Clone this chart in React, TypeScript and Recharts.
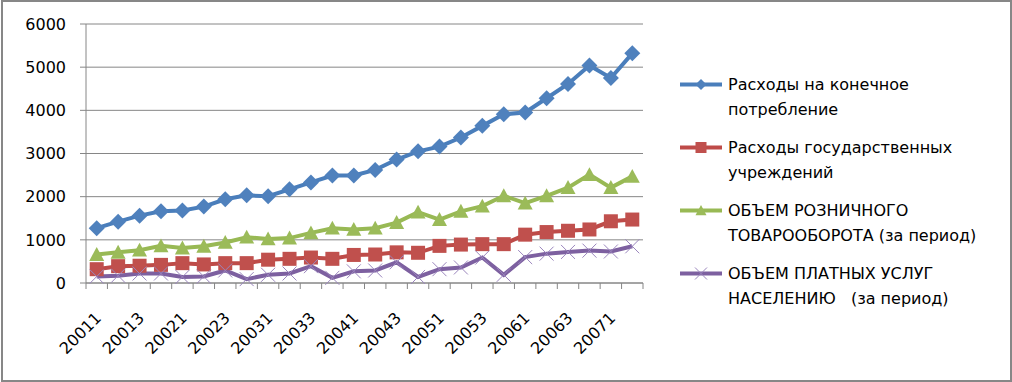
import { CartesianGrid, Legend, Line, LineChart, XAxis, YAxis } from 'recharts'

// quarters: year + quarter number
const quarters = [
  '20011', '20012', '20013', '20014',
  '20021', '20022', '20023', '20024',
  '20031', '20032', '20033', '20034',
  '20041', '20042', '20043', '20044',
  '20051', '20052', '20053', '20054',
  '20061', '20062', '20063', '20064',
  '20071', '20072',
]

const consumption = [1270, 1420, 1560, 1660, 1680, 1770, 1940, 2030, 2010, 2170, 2330, 2490, 2490, 2620, 2860, 3050, 3160, 3370, 3640, 3910, 3950, 4280, 4610, 5040, 4750, 5320]
const government = [320, 390, 400, 420, 460, 430, 460, 460, 540, 560, 590, 560, 650, 660, 710, 700, 860, 890, 900, 900, 1120, 1180, 1210, 1240, 1430, 1470]
const retail = [660, 710, 760, 860, 810, 850, 940, 1060, 1020, 1040, 1160, 1270, 1240, 1270, 1400, 1640, 1470, 1660, 1780, 2020, 1850, 2020, 2210, 2510, 2210, 2470]
const services = [150, 170, 220, 220, 140, 150, 290, 90, 190, 220, 390, 120, 270, 290, 480, 140, 320, 360, 590, 190, 600, 680, 720, 750, 730, 850]

const yTicks = [0, 1000, 2000, 3000, 4000, 5000, 6000]

const seriesNames = [
  'Расходы на конечное\nпотребление',
  'Расходы государственных\nучреждений',
  'ОБЪЕМ РОЗНИЧНОГО\nТОВАРООБОРОТА (за период)',
  'ОБЪЕМ ПЛАТНЫХ УСЛУГ\nНАСЕЛЕНИЮ   (за период)',
]

const data = quarters.map((q, i) => ({
  q,
  consumption: consumption[i],
  government: government[i],
  retail: retail[i],
  services: services[i],
}))

type Shape = 'diamond' | 'square' | 'triangle' | 'cross'

const SERIES: { key: string; name: string; line: string; fill: string; shape: Shape; size: number }[] = [
  { key: 'consumption', name: seriesNames[0], line: '#4A7EBB', fill: '#4F81BD', shape: 'diamond', size: 16 },
  { key: 'government', name: seriesNames[1], line: '#BE4B48', fill: '#C0504D', shape: 'square', size: 14 },
  { key: 'retail', name: seriesNames[2], line: '#98B954', fill: '#9BBB59', shape: 'triangle', size: 15 },
  { key: 'services', name: seriesNames[3], line: '#7D60A0', fill: '#9a85bd', shape: 'cross', size: 14 },
]

const W = 1012
const H = 382
const M = { top: 24, right: 369, left: 0, bottom: 0 }
const Y_W = 86
const X_H = 99
const PLOT_W = W - M.left - M.right - Y_W
const STEP = PLOT_W / quarters.length
const AXIS = '#868686'
const FONT = '"DejaVu Sans", sans-serif'

const Marker = ({ shape, cx, cy, size, fill }: { shape: Shape; cx: number; cy: number; size: number; fill: string }) => {
  const r = size / 2
  if (shape === 'diamond')
    return <polygon points={`${cx},${cy - r} ${cx + r},${cy} ${cx},${cy + r} ${cx - r},${cy}`} fill={fill} />
  if (shape === 'square') return <rect x={cx - r} y={cy - r} width={size} height={size} fill={fill} />
  if (shape === 'triangle')
    return <polygon points={`${cx},${cy - r} ${cx + r},${cy + r * 0.85} ${cx - r},${cy + r * 0.85}`} fill={fill} />
  return (
    <path
      d={`M${cx - r},${cy - r}L${cx + r},${cy + r}M${cx + r},${cy - r}L${cx - r},${cy + r}`}
      stroke={fill}
      strokeWidth={1}
      fill="none"
    />
  )
}

const XTick = (props: any) => {
  const { x, y, payload } = props
  const i = quarters.indexOf(payload.value)
  const tx = x + 5.6
  const ty = y + 36
  return (
    <g>
      <line x1={x - STEP / 2} x2={x - STEP / 2} y1={y} y2={y + 6} stroke={AXIS} />
      {i === quarters.length - 1 && <line x1={x + STEP / 2} x2={x + STEP / 2} y1={y} y2={y + 6} stroke={AXIS} />}
      {i % 2 === 0 && (
        <text x={tx} y={ty} textAnchor="end" transform={`rotate(-45 ${tx} ${ty})`} fontSize={16} fill="#000">
          {payload.value}
        </text>
      )}
    </g>
  )
}

const renderLegend = (props: any) => {
  const items = [...(props.payload ?? [])].sort(
    (a: any, b: any) => SERIES.findIndex((s) => s.key === a.dataKey) - SERIES.findIndex((s) => s.key === b.dataKey),
  )
  return (
    <div style={{ fontFamily: FONT, fontSize: 16, color: '#000' }}>
      {items.map((entry: any) => {
        const s = SERIES.find((x) => x.key === entry.dataKey) ?? SERIES[0]
        return (
          <div key={s.key} style={{ display: 'flex', alignItems: 'flex-start', marginBottom: 13 }}>
            <svg width={48} height={25} style={{ flex: 'none' }}>
              <line x1={0} x2={42} y1={12.5} y2={12.5} stroke={s.line} strokeWidth={4} />
              <Marker shape={s.shape} cx={21} cy={12.5} size={s.shape === 'cross' ? 12 : 11} fill={s.fill} />
            </svg>
            <div style={{ whiteSpace: 'pre', lineHeight: '25px' }}>{s.name}</div>
          </div>
        )
      })}
    </div>
  )
}

export default function App() {
  return (
    <div style={{ position: 'absolute', left: 0, top: 0, width: W, height: H, background: '#fff', fontFamily: FONT }}>
      <LineChart width={W} height={H} data={data} margin={M}>
        <CartesianGrid vertical={false} stroke={AXIS} />
        <XAxis
          dataKey="q"
          height={X_H}
          interval={0}
          padding={{ left: STEP / 2, right: STEP / 2 }}
          tickSize={0}
          tickMargin={0}
          tickLine={false}
          axisLine={{ stroke: AXIS }}
          tick={<XTick />}
        />
        <YAxis
          width={Y_W}
          domain={[0, 6000]}
          ticks={yTicks}
          interval={0}
          tickSize={6}
          tickMargin={14}
          axisLine={{ stroke: AXIS }}
          tickLine={{ stroke: AXIS }}
          tick={{ fill: '#000', fontSize: 16 }}
        />
        <Legend
          layout="horizontal"
          verticalAlign="middle"
          align="center"
          wrapperStyle={{ left: 680, top: 72, width: 330, height: 260 }}
          content={renderLegend}
        />
        {SERIES.map((s) => (
          <Line
            key={s.key}
            dataKey={s.key}
            name={s.name}
            stroke={s.line}
            strokeWidth={4}
            isAnimationActive={false}
            dot={(p: any) => (
              <Marker key={`${s.key}-${p.index}`} shape={s.shape} cx={p.cx} cy={p.cy} size={s.size} fill={s.fill} />
            )}
            activeDot={false}
          />
        ))}
      </LineChart>
      <div
        style={{
          position: 'absolute',
          left: 1,
          top: 0,
          width: 1011,
          height: H,
          border: '2px solid #878787',
          boxSizing: 'border-box',
          pointerEvents: 'none',
        }}
      />
    </div>
  )
}
